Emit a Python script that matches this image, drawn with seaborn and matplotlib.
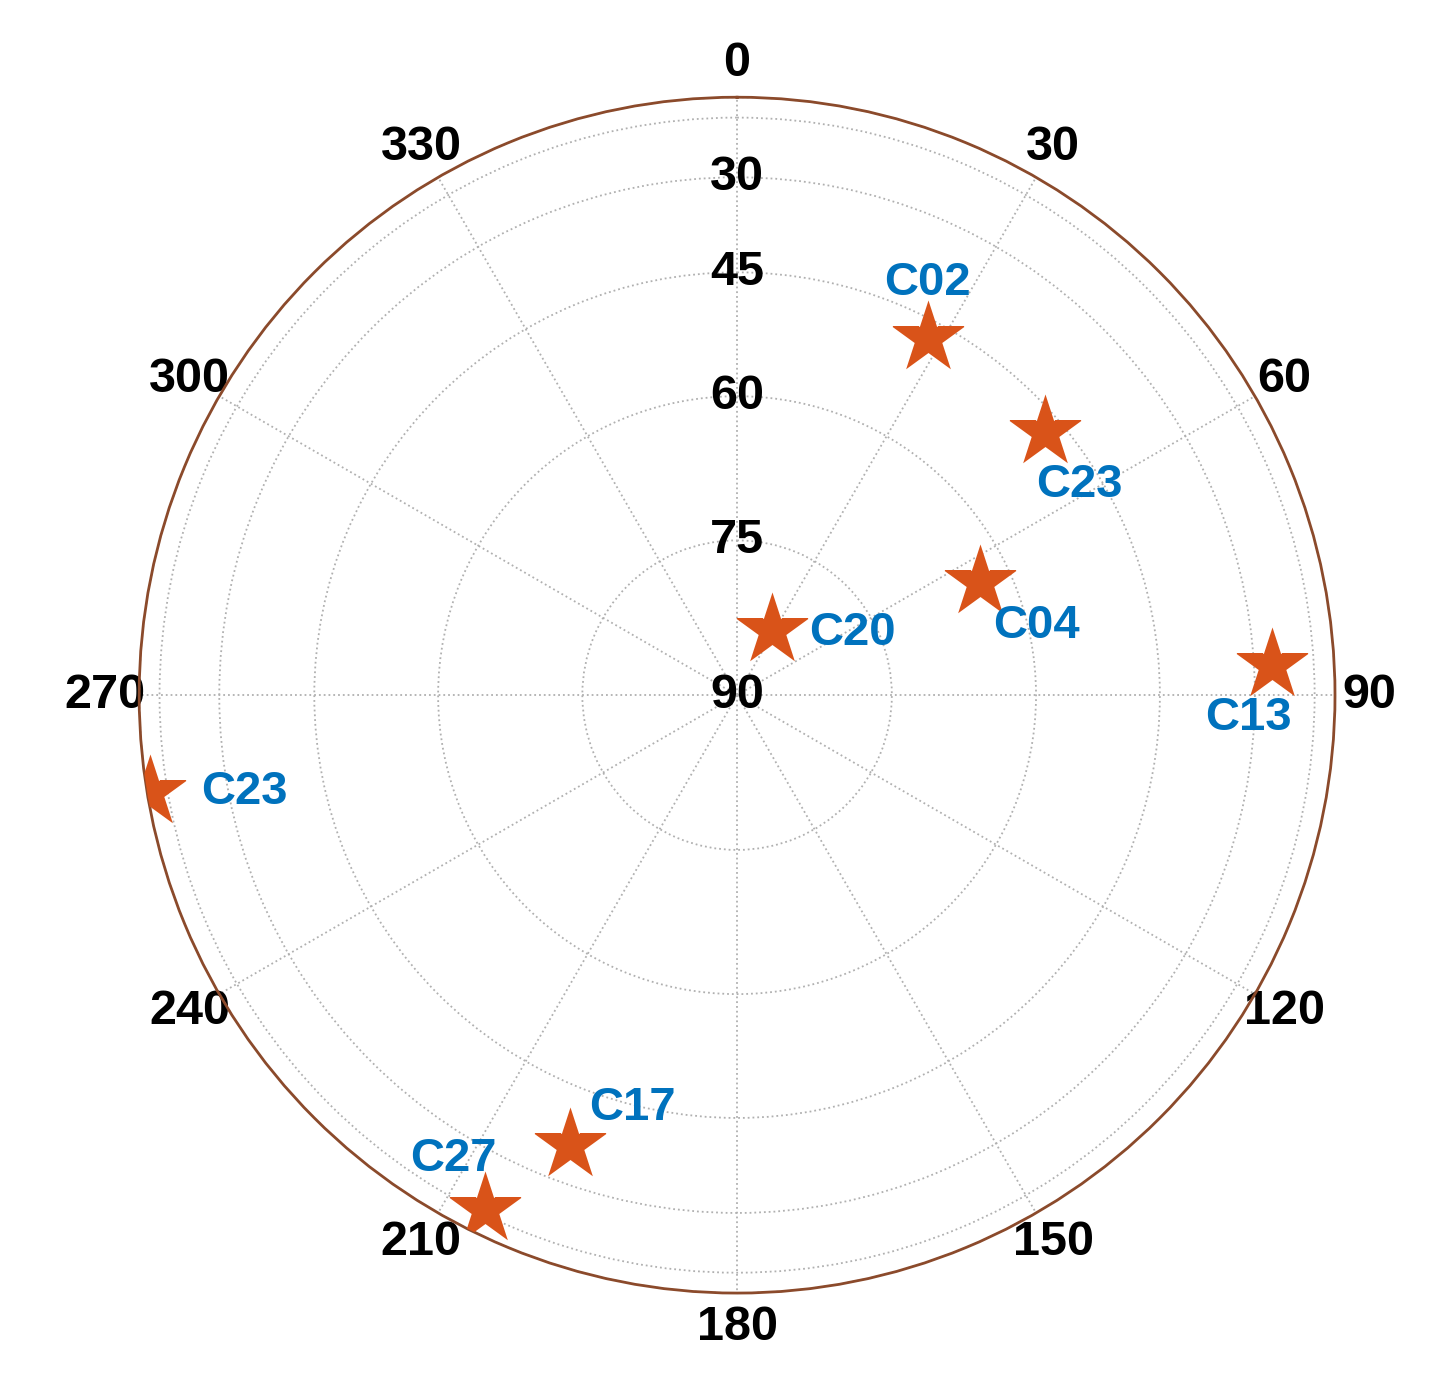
import numpy as np
import pandas as pd
import matplotlib
matplotlib.use('Agg')
import matplotlib.pyplot as plt
import seaborn as sns

# Satellite skyplot data (azimuth deg, elevation deg)
sats = ['C02', 'C23', 'C04', 'C20', 'C13', 'C23', 'C17', 'C27']
azimuth = [28.1, 49.5, 65.0, 28.3, 86.8, 260.6, 200.4, 206.1]
elevation = [47.4, 47.4, 63.4, 82.9, 26.3, 5.7, 36.6, 16.7]
label_offsets = [(0, 40), (25, -38), (41, -32), (58, -2), (-17, -38), (68, 0), (45, 27), (-23, 36)]

elev_rings = [0, 15, 30, 45, 60, 75]
elev_labels = [30, 45, 60, 75, 90]
az_ticks = list(range(0, 360, 30))

sns.set_style('white')
plt.rcParams['font.family'] = ['Liberation Sans', 'DejaVu Sans']

df = pd.DataFrame({'sat': sats,
                   'theta': np.deg2rad(azimuth),
                   'r': np.cos(np.deg2rad(elevation))})

fig = plt.figure(figsize=(14.43, 13.97), dpi=100)
ax = fig.add_axes([0.0963, 0.0744, 0.829, 0.856], projection='polar')
ax.set_theta_zero_location('N')
ax.set_theta_direction(-1)
ax.set_ylim(0, 1)

ax.set_yticks(np.cos(np.deg2rad(elev_rings)))
ax.set_yticklabels([])
ax.set_xticks(np.deg2rad(az_ticks))
ax.set_xticklabels([str(a) for a in az_ticks], fontsize=35, fontweight='bold', color='black')
ax.tick_params(axis='x', pad=14)
ax.grid(True, color='#b0b0b0', linestyle=':', linewidth=1.3)
ax.spines['polar'].set_color('#8B4A2B')
ax.spines['polar'].set_linewidth(2)

for e in elev_labels:
    ax.text(0, np.cos(np.deg2rad(e)), str(e), ha='center', va='center',
            fontsize=35, fontweight='bold', color='black')

sns.scatterplot(data=df, x='theta', y='r', ax=ax, marker='*', s=3000,
                color='#D95319', edgecolor='#D95319', linewidth=0, zorder=5,
                legend=False)

for name, t, r, off in zip(df['sat'], df['theta'], df['r'], label_offsets):
    ax.annotate(name, (t, r), xytext=off, textcoords='offset points',
                ha='center', va='center', fontsize=34, fontweight='bold',
                color='#0072BD', zorder=6)

ax.set_xlabel('')
ax.set_ylabel('')
fig.savefig('out.png', dpi=100)
